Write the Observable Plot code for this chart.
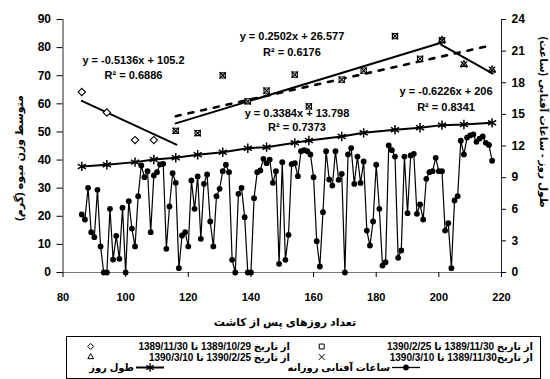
<!DOCTYPE html>
<html>
<head>
<meta charset="utf-8">
<script src="https://cdn.jsdelivr.net/npm/d3@7"></script>
<script src="https://cdn.jsdelivr.net/npm/@observablehq/plot@0.6"></script>
<style>
  html, body { margin: 0; padding: 0; background: #fff; }
  #chart { width: 550px; height: 379px; position: relative; overflow: hidden; }
  svg { display: block; }
</style>
</head>
<body>
<div id="chart"></div>
<script>
// ---------- data ----------
const xTicks = [80, 100, 120, 140, 160, 180, 200, 220];
const yTicksLeft = [0, 10, 20, 30, 40, 50, 60, 70, 80, 90];
const yTicksRight = [0, 3, 6, 9, 12, 15, 18, 21, 24];

// fruit weight samples (left axis, g)
const diamondDays = [86, 94, 103, 109];
const diamondWeight = [64.2, 56.9, 47.1, 47.1];
const squareDays = [116, 123, 131, 139, 145, 154, 158.5, 169, 176, 186, 194, 201];
const squareWeight = [50.4, 49.6, 70.1, 60.9, 64.7, 70.4, 59.1, 68.6, 71.8, 84.1, 76.0, 82.6];
const crossDays = [116, 123, 131, 139, 145, 154, 158.5, 169, 176, 186, 194, 201, 208, 217];
const crossWeight = [50.4, 49.6, 70.1, 60.9, 64.7, 70.4, 59.1, 68.6, 71.8, 84.1, 76.0, 82.6, 74.0, 72.1];
const triangleDays = [201, 208, 217];
const triangleWeight = [82.6, 74.0, 72.1];

// day length (right axis, h)
const dayLengthDays = [86, 94, 103, 109, 116, 123, 131, 139, 145, 154, 158.5, 169, 176, 186, 194, 201, 208, 217];
const dayLength = [10.06, 10.22, 10.47, 10.72, 10.88, 11.17, 11.41, 11.79, 11.89, 12.3, 12.52, 12.9, 13.25, 13.54, 13.73, 13.98, 14.04, 14.2];

// daily sunshine hours (right axis, h), one value per day from sunStartDay
const sunStartDay = 86;
const sunshine = [
  5.50, 5.03, 8.03, 3.83, 3.35, 7.84, 2.47, 0, 0, 6.04,
  1.23, 3.48, 1.30, 6.14, 0, 6.77, 4.17, 2.47, 7.24, 10.15,
  9.04, 9.61, 3.83, 9.2, 9.52, 10.25, 10.31, 2.25, 6.26, 9.42,
  8.51, 0.41, 3.51, 3.83, 2.47, 8.73, 6.04, 9.11, 3.19, 8.41,
  9.30, 4.84, 2.47, 7.24, 7.94, 9.61, 10.22, 9.52, 1.20, 0,
  7.46, 8.03, 5.25, 0, 0, 7.05, 9.52, 9.68, 10.78, 10.37,
  10.71, 8.51, 9.61, 0.82, 10.47, 1.20, 3.57, 10.28, 10.37, 9.14,
  11.5, 11.6, 11.5, 11.2, 9.04, 2.97, 0.57, 5.72, 11.5, 8.82,
  8.25, 11.5, 8.79, 9.36, 0, 11.2, 11.8, 8.4, 11.0, 8.5,
  10.53, 3.98, 2.56, 4.84, 10.22, 6.04, 0.66, 0.98, 12.05, 11.6,
  11.0, 1.39, 2.09, 11.0, 5.63, 11.1, 11.26, 5.57, 6.45, 5.03,
  8.89, 9.52, 9.61, 10.88, 9.61, 9.61, 3.98, 4.68, 0.41, 6.83,
  7.24, 12.5, 11.2, 12.8, 13.0, 13.1, 12.4, 12.7, 12.9, 12.3,
  12.1, 10.6
];

// trend lines (as printed on the chart) and their day ranges
const trendNames = ["diamond", "square", "cross", "triangle"];
const trendSlope = [-0.5136, 0.3384, 0.2502, -0.6226];
const trendIntercept = [105.2, 13.798, 26.577, 206];
const trendFrom = [86, 116, 116, 200.7];
const trendTo = [116.2, 200.7, 215.6, 217.2];
const trendDashed = [false, false, true, false];

const eqText = ["y = -0.5136x + 105.2", "y = 0.3384x + 13.798", "y = 0.2502x + 26.577", "y = -0.6226x + 206"];
const r2Text = ["R² = 0.6886", "R² = 0.7373", "R² = 0.6176", "R² = 0.8341"];

// ---------- build ----------
const K = 90 / 24; // right axis -> left axis units
const font = "'Liberation Sans', Arial, 'DejaVu Sans', sans-serif";

const sunData = sunshine.map((v, i) => ({x: sunStartDay + i, y: v * K}));
const dayData = dayLength.map((v, i) => ({x: dayLengthDays[i], y: v * K}));
const pts = (xs, ys) => xs.map((x, i) => ({x, y: ys[i]}));

const trendSegs = [];
trendNames.forEach((n, i) => {
  [trendFrom[i], trendTo[i]].forEach(x => trendSegs.push({
    name: n, x, y: trendSlope[i] * x + trendIntercept[i], dashed: trendDashed[i]
  }));
});

// label anchor positions (data coords)
const eqPos = [
  {x: 102.5, y: 75.4, r: 70.1},
  {x: 154.7, y: 56.7, r: 51.7},
  {x: 153.1, y: 84.0, r: 78.4},
  {x: 202.3, y: 64.4, r: 58.7}
];
const labels = [];
eqText.forEach((t, i) => {
  labels.push({x: eqPos[i].x, y: eqPos[i].y, t});
  labels.push({x: eqPos[i].x, y: eqPos[i].r, t: r2Text[i]});
});

const plot = Plot.plot({
  width: 550,
  height: 330,
  marginLeft: 62.5,
  marginRight: 49,
  marginTop: 19,
  marginBottom: 58,
  style: {fontFamily: font, fontSize: "11px", fontWeight: "bold", color: "#000", background: "#fff"},
  x: {domain: [80, 220]},
  y: {domain: [0, 90]},
  marks: [
    Plot.ruleY([0], {stroke: "#777", strokeWidth: 1.2}),
    Plot.ruleX([80], {stroke: "#222", strokeWidth: 1}),
    Plot.ruleX([220], {stroke: "#222", strokeWidth: 1}),
    Plot.axisX({ticks: xTicks, tickSize: 5, tickPadding: 16, label: null, fontWeight: "bold", fontSize: 11}),
    Plot.axisY({ticks: yTicksLeft, tickSize: 6, tickPadding: 6, label: null, anchor: "left", fontWeight: "bold", fontSize: 12}),
    Plot.axisY(yTicksRight.map(d => d * K), {anchor: "right", tickSize: 4, tickPadding: 6, label: null,
      tickFormat: d => String(Math.round(d / K)), fontWeight: "bold", fontSize: 12}),
    // sunshine
    Plot.line(sunData, {x: "x", y: "y", stroke: "#000", strokeWidth: 1.2}),
    Plot.dot(sunData, {x: "x", y: "y", r: 2.9, fill: "#000", stroke: "none"}),
    // day length
    Plot.line(dayData, {x: "x", y: "y", stroke: "#000", strokeWidth: 2}),
    Plot.dot(dayData, {x: "x", y: "y", symbol: "asterisk", r: 4.4, stroke: "#000", strokeWidth: 1.5}),
    // trend lines
    Plot.line(trendSegs.filter(d => !d.dashed), {x: "x", y: "y", z: "name", stroke: "#000", strokeWidth: 2}),
    Plot.line(trendSegs.filter(d => d.dashed), {x: "x", y: "y", z: "name", stroke: "#000", strokeWidth: 2.6, strokeDasharray: "5,8"}),
    // fruit weight markers
    Plot.dot(pts(diamondDays, diamondWeight), {x: "x", y: "y", symbol: "diamond2", r: 3.3, fill: "#fff", stroke: "#000", strokeWidth: 1.1}),
    Plot.dot(pts(squareDays, squareWeight), {x: "x", y: "y", symbol: "square2", r: 3.3, fill: "#fff", stroke: "#000", strokeWidth: 1.1}),
    Plot.dot(pts(triangleDays, triangleWeight), {x: "x", y: "y", symbol: "triangle2", r: 3.2, fill: "none", stroke: "#000", strokeWidth: 1.1}),
    Plot.dot(pts(crossDays, crossWeight), {x: "x", y: "y", symbol: "times", r: 3.0, stroke: "#000", strokeWidth: 1.1}),
    // equations
    Plot.text(labels, {x: "x", y: "y", text: "t", fontSize: 11, fontWeight: "bold", fill: "#000"})
  ]
});

const root = document.getElementById("chart");
root.appendChild(plot);

// axis titles
const svg = d3.select(plot);
svg.append("text")
  .attr("transform", "translate(23,158) rotate(-90)")
  .attr("text-anchor", "middle").attr("direction", "rtl")
  .attr("font-family", font).attr("font-size", 11).attr("font-weight", "bold")
  .text("متوسط وزن میوه (گرم)");
svg.append("text")
  .attr("transform", "translate(540,122) rotate(90)")
  .attr("text-anchor", "middle").attr("direction", "rtl")
  .attr("font-family", font).attr("font-size", 10.5).attr("font-weight", "bold")
  .text("طول روز - ساعات آفتابی (ساعت)");
svg.append("text")
  .attr("x", 285).attr("y", 326)
  .attr("text-anchor", "middle").attr("direction", "rtl")
  .attr("font-family", font).attr("font-size", 11).attr("font-weight", "bold")
  .text("تعداد روزهای پس از کاشت");

// legend (below the plot)
const legendItems = [
  {text: "از تاریخ 1389/11/30 تا 1390/2/25", sym: "square", right: 533, mx: 321.7, row: 0},
  {text: "از تاریخ 1389/10/29 تا 1389/11/30", sym: "diamond", right: 290, mx: 90.7, row: 0},
  {text: "از تاریخ1389/11/30 تا 1390/3/10", sym: "times", right: 533, mx: 321.7, row: 1},
  {text: "از تاریخ 1390/2/25 تا 1390/3/10", sym: "triangle", right: 290, mx: 90.7, row: 1},
  {text: "ساعات آفتابی روزانه", sym: "dotline", right: 390, mx: 406, row: 2},
  {text: "طول روز", sym: "starline", right: 134, mx: 150, row: 2}
];
const leg = d3.select(root).append("svg").attr("width", 550).attr("height", 49);
leg.append("rect").attr("x", 66.5).attr("y", 6.5).attr("width", 474).attr("height", 42)
  .attr("fill", "none").attr("stroke", "#000").attr("stroke-width", 1);
const rowY = [16.5, 27, 37.5];
const symMap = {square: d3.symbolSquare, diamond: d3.symbolDiamond2, times: d3.symbolTimes, triangle: d3.symbolTriangle2};
legendItems.forEach(it => {
  const y = rowY[it.row];
  leg.append("text").attr("x", it.right).attr("y", y + 3.5)
    .attr("direction", "rtl").attr("text-anchor", "start")
    .attr("font-family", font).attr("font-size", 10).attr("font-weight", "bold")
    .text(it.text);
  if (symMap[it.sym]) {
    leg.append("path").attr("d", d3.symbol(symMap[it.sym], 24)())
      .attr("transform", `translate(${it.mx},${y})`)
      .attr("fill", it.sym === "times" ? "none" : "#fff").attr("stroke", "#000").attr("stroke-width", 1);
  } else {
    leg.append("line").attr("x1", it.mx - 14).attr("x2", it.mx + 14).attr("y1", y).attr("y2", y)
      .attr("stroke", "#000").attr("stroke-width", it.sym === "starline" ? 2 : 1.3);
    if (it.sym === "dotline") {
      leg.append("circle").attr("cx", it.mx).attr("cy", y).attr("r", 2.9).attr("fill", "#000");
    } else {
      leg.append("path").attr("d", d3.symbol(d3.symbolAsterisk, 50)())
        .attr("transform", `translate(${it.mx},${y})`).attr("stroke", "#000").attr("stroke-width", 1.4).attr("fill", "none");
    }
  }
});
</script>
</body>
</html>
